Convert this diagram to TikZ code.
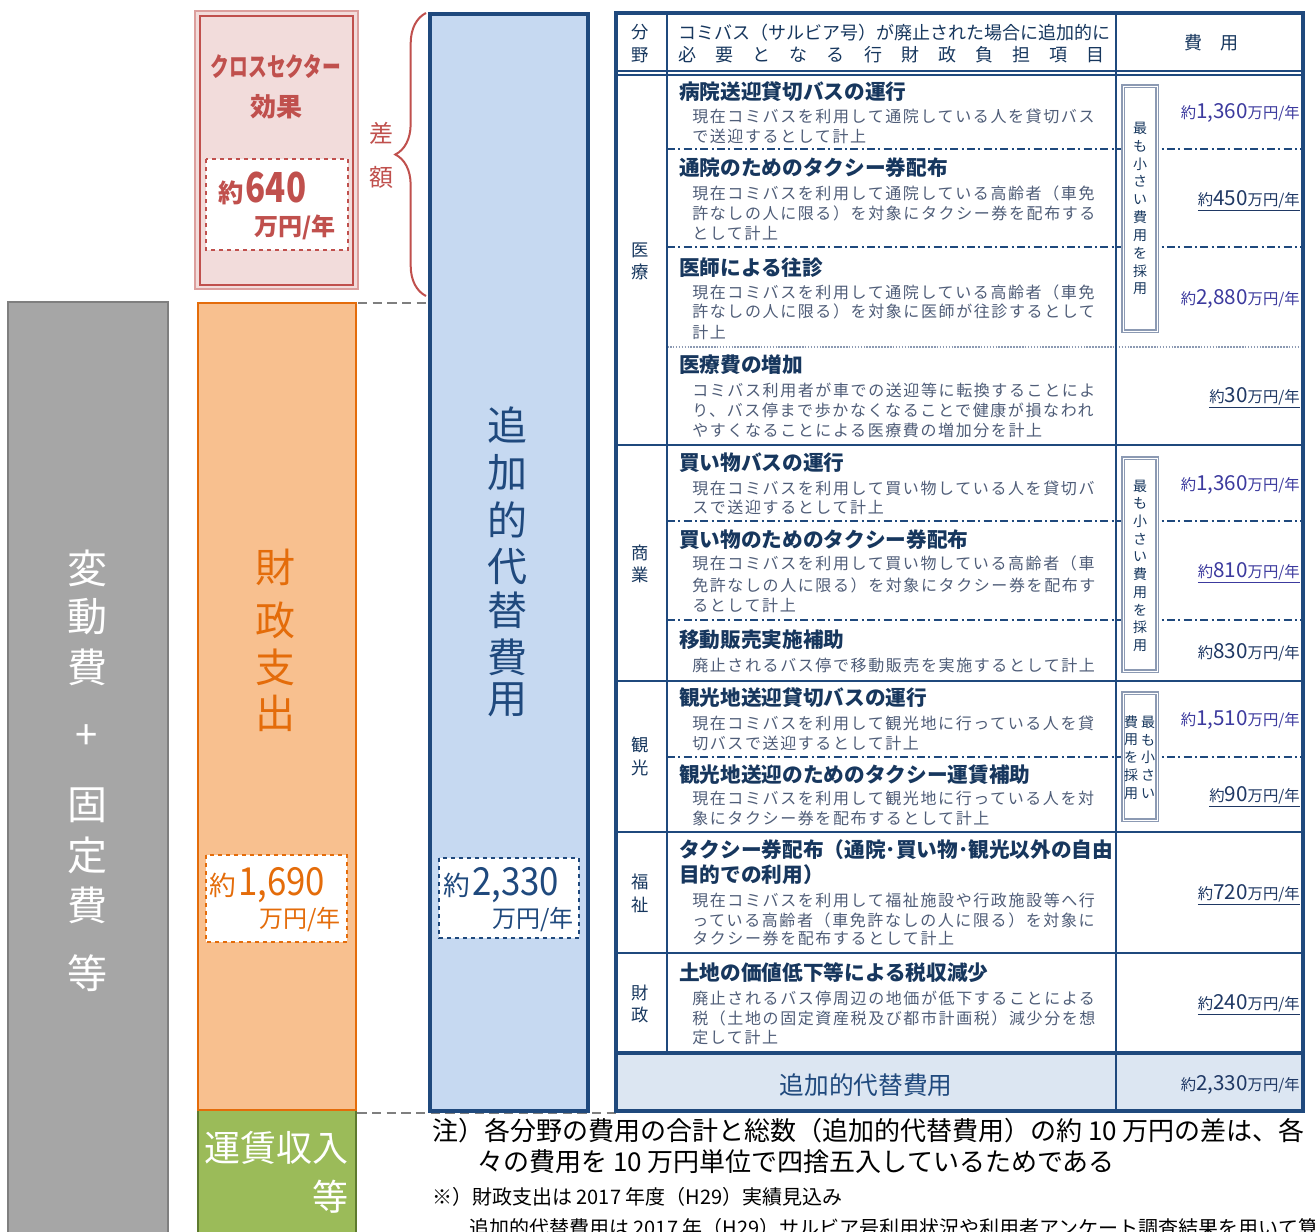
\documentclass[tikz,border=0pt]{standalone}
\usepackage{graphicx}
\usepackage{fontspec}
\setmainfont{Noto Sans CJK JP}
\newfontfamily\bodyfont[LetterSpace=10]{Noto Sans CJK JP}
\usetikzlibrary{calc,decorations.pathreplacing}

\definecolor{tabline}{HTML}{1F497D}
\definecolor{titlenavy}{HTML}{17375E}
\definecolor{bodygray}{HTML}{4F5D78}
\definecolor{costviolet}{HTML}{3C3A9E}
\definecolor{costnavy}{HTML}{1F3864}
\definecolor{crossred}{HTML}{C0504D}
\definecolor{crossfill}{HTML}{F2DCDB}
\definecolor{finorange}{HTML}{E46C0A}
\definecolor{finfill}{HTML}{F8C08F}
\definecolor{farefill}{HTML}{9BBB59}
\definecolor{fareline}{HTML}{5E7A2E}
\definecolor{varfill}{HTML}{A6A6A6}
\definecolor{varline}{HTML}{7F7F7F}
\definecolor{altfill}{HTML}{C6D9F1}
\definecolor{totalfill}{HTML}{DCE6F2}
\definecolor{boxline}{HTML}{8C9AB3}

\newcommand{\fsize}[1]{\fontsize{#1}{#1}\selectfont}
\newcommand{\costtxt}[1]{{\fsize{11.5pt}約}{\fsize{15.5pt}#1}{\fsize{11.5pt}万円/年}}

\tikzset{
  rowtitle/.style={anchor=west, inner sep=0pt, text=titlenavy, font=\fsize{15.5pt}\bfseries},
  rowbody/.style={anchor=west, inner sep=0pt, text=bodygray, font=\bodyfont\fsize{12pt}},
  field/.style={inner sep=0pt, text=titlenavy, font=\fsize{13pt}},
  cost/.style={anchor=east, inner sep=0pt},
  boxch/.style={inner sep=0pt, text=titlenavy, font=\fsize{10.5pt}},
  barch/.style={inner sep=0pt, font=\fsize{30pt}},
  dashdot/.style={tabline, line width=1.5pt, dash pattern=on 6pt off 2.5pt on 1.5pt off 2.5pt},
  solidsep/.style={tabline, line width=2.2pt},
  gapline/.style={varline, line width=1.5pt, dash pattern=on 7pt off 4pt},
  valbox/.style={fill=white, dashed, line width=1.2pt},
  minbox/.style={draw=boxline, fill=white, line width=1pt, double=white, double distance=0.5pt}
}

\begin{document}
\begin{tikzpicture}[x=0.75pt,y=-0.75pt]
\clip (0,0) rectangle (1315,1232);
\fill[white] (0,0) rectangle (1315,1232);

% bar corners
\coordinate (var-nw) at (8,302);
\coordinate (var-se) at (168,1250);
\coordinate (cross-nw) at (195,11);
\coordinate (cross-se) at (358,289);
\coordinate (fin-nw) at (198,303);
\coordinate (fin-se) at (356,1110);
\coordinate (fare-se) at (356,1250);
\coordinate (alt-nw) at (430,14);
\coordinate (alt-se) at (588,1111);
\coordinate (tab-nw) at (616,13);
\coordinate (tab-se) at (1303,1111);
\coordinate (gap-w) at (328,1113);

% guide lines
\draw[gapline] (gap-w) -- (gap-w -| tab-nw);
\draw[gapline] (fin-nw -| cross-se) -- (fin-nw -| alt-nw);

% bars
\draw[varline, fill=varfill, line width=2.2pt] (var-nw) rectangle (var-se);
\draw[crossred!55, fill=crossfill, line width=1.2pt] (cross-nw) rectangle (cross-se);
\draw[crossred, line width=1.8pt] ($(cross-nw)+(5,5)$) rectangle ($(cross-se)+(-5,-4)$);
\draw[fareline, fill=farefill, line width=1.8pt] (fin-se -| fin-nw) rectangle (fare-se);
\draw[finorange, fill=finfill, line width=2.2pt] (fin-nw) rectangle (fin-se);
\draw[tabline, fill=altfill, line width=2.4pt] (alt-nw) rectangle (alt-se);

% brace
\coordinate (brace-s) at (426,296);
\coordinate (brace-n) at (426,13);
\draw[crossred, line width=1.5pt, decorate, decoration={brace, amplitude=23pt}] (brace-s) -- (brace-n);
\node[inner sep=0pt, text=crossred, font=\fsize{18pt}] (diff1) at (381,133) {差};
\node[inner sep=0pt, text=crossred, font=\fsize{18pt}] (diff2) at (381,177) {額};

% bar labels
\foreach \c/\y [count=\k] in {変/568,動/617,費/667,+/737,固/805,定/855,費/905,等/973}
  \node[barch, text=white] (var\k) at (87,\y) {\c};
\foreach \c/\y [count=\k] in {財/567,政/620,支/667,出/713}
  \node[barch, text=finorange] (fin\k) at (275,\y) {\c};
\foreach \c/\y [count=\k] in {追/425,加/473,的/520,代/567,替/610,費/657,用/700}
  \node[barch, text=tabline] (alt\k) at (507,\y) {\c};
\node[inner sep=0pt, text=crossred, font=\fsize{19.5pt}\bfseries] (cross1) at (276,66) {\scalebox{0.72}[1]{クロスセクター}};
\node[inner sep=0pt, text=crossred, font=\fsize{19.5pt}\bfseries] (cross2) at (276,107) {効果};
\node[inner sep=0pt, text=white, font=\fsize{27pt}, anchor=west] (fare1) at (204,1148) {運賃収入};
\node[inner sep=0pt, text=white, font=\fsize{27pt}, anchor=east] (fare2) at (349,1197) {等};

% value boxes
\draw[crossred, valbox] (206,159) rectangle (348,250);
\node[anchor=base west, inner sep=0pt, text=crossred, font=\bfseries] (crossval) at (218,202) {{\fsize{19pt}約}\,{\fsize{31pt}\scalebox{0.8}[1]{640}}};
\node[anchor=base east, inner sep=0pt, text=crossred, font=\fsize{18pt}\bfseries] (crossunit) at (336,235) {万円/年};
\draw[finorange, valbox] (206,855) rectangle (347,942);
\node[anchor=base west, inner sep=0pt, text=finorange] (finval) at (209,895) {{\fsize{20pt}約}\,{\fsize{29pt}\scalebox{0.9}[1]{1,690}}};
\node[anchor=base east, inner sep=0pt, text=finorange, font=\fsize{18pt}] (finunit) at (341,927) {万円/年};
\draw[tabline, valbox] (439,858) rectangle (579,938);
\node[anchor=base west, inner sep=0pt, text=tabline] (altval) at (443,895) {{\fsize{20pt}約}\,{\fsize{29pt}\scalebox{0.9}[1]{2,330}}};
\node[anchor=base east, inner sep=0pt, text=tabline, font=\fsize{18pt}] (altunit) at (574,927) {万円/年};

% table
\fill[totalfill] (616,1053) rectangle (1303,1111);
\foreach \y in {149,247,521,620,757}
  \draw[dashdot] (667,\y) -- (1303,\y);
\draw[boxline, line width=1.2pt, densely dotted] (667,347) -- (1303,347);
\foreach \y in {445,681,832,953}
  \draw[solidsep] (616,\y) -- (1303,\y);
\draw[tabline, line width=1.4pt] (616,71) -- (1303,71);
\draw[tabline, line width=1.4pt] (616,75) -- (1303,75);
\draw[tabline, line width=2pt] (667,13) -- (667,1053);
\draw[tabline, line width=2pt] (1116,13) -- (1116,1111);
\draw[tabline, line width=3pt] (616,1053) -- (1303,1053);
\draw[tabline, line width=2.6pt] (tab-nw) rectangle (tab-se);

% smallest-cost boxes
\draw[minbox] (1123,86) rectangle (1157,331);
\draw[minbox] (1123,458) rectangle (1157,671);
\draw[minbox] (1123,693) rectangle (1157,820);
\foreach \c [count=\k] in {最,も,小,さ,い,費,用,を,採,用}
  \node[boxch] (minA\k) at (1140,{128+17.9*(\k-1)}) {\c};
\foreach \c [count=\k] in {最,も,小,さ,い,費,用,を,採,用}
  \node[boxch] (minB\k) at (1140,{486+17.7*(\k-1)}) {\c};
\foreach \c [count=\k] in {最,も,小,さ,い}
  \node[boxch] (minC\k) at (1148,{722+17.8*(\k-1)}) {\c};
\foreach \c [count=\k] in {費,用,を,採,用}
  \node[boxch] (minD\k) at (1131,{722+17.8*(\k-1)}) {\c};

% header
\node[field] (head1) at (640,32) {分};
\node[field] (head2) at (640,55) {野};
\node[anchor=west, inner sep=0pt, text=titlenavy, font=\fsize{13.5pt}] (head3) at (678,33) {コミバス（サルビア号）が廃止された場合に追加的に};
\node[anchor=west, inner sep=0pt, text=titlenavy, font=\fsize{13.5pt}] (head4) at (678,55) {\makebox[320pt][s]{必\hfill 要\hfill と\hfill な\hfill る\hfill 行\hfill 財\hfill 政\hfill 負\hfill 担\hfill 項\hfill 目}};
\node[inner sep=0pt, text=titlenavy, font=\fsize{13.5pt}] (head5) at (1211,43) {費　用};

% fields
\foreach \c/\y [count=\k] in {医/250,療/272,商/553,業/575,観/745,光/768,福/882,祉/905,財/993,政/1015}
  \node[field] (field\k) at (640,\y) {\c};

% items
\foreach \y/\t [count=\k] in {92/病院送迎貸切バスの運行, 168/通院のためのタクシー券配布, 268/医師による往診, 365/医療費の増加, 463/買い物バスの運行, 540/買い物のためのタクシー券配布, 640/移動販売実施補助, 698/観光地送迎貸切バスの運行, 775/観光地送迎のためのタクシー運賃補助, 850/タクシー券配布（通院･買い物･観光以外の自由, 875/目的での利用）, 973/土地の価値低下等による税収減少}
  \node[rowtitle] (item\k) at (679,\y) {\t};
\foreach \y/\t [count=\k] in {
  116/現在コミバスを利用して通院している人を貸切バス, 136/で送迎するとして計上,
  193/現在コミバスを利用して通院している高齢者（車免, 213/許なしの人に限る）を対象にタクシー券を配布する, 233/として計上,
  292/現在コミバスを利用して通院している高齢者（車免, 311/許なしの人に限る）を対象に医師が往診するとして, 332/計上,
  390/コミバス利用者が車での送迎等に転換することによ, 410/り、バス停まで歩かなくなることで健康が損なわれ, 430/やすくなることによる医療費の増加分を計上,
  488/現在コミバスを利用して買い物している人を貸切バ, 507/スで送迎するとして計上,
  563/現在コミバスを利用して買い物している高齢者（車, 585/免許なしの人に限る）を対象にタクシー券を配布す, 605/るとして計上,
  665/廃止されるバス停で移動販売を実施するとして計上,
  723/現在コミバスを利用して観光地に行っている人を貸, 743/切バスで送迎するとして計上,
  798/現在コミバスを利用して観光地に行っている人を対, 818/象にタクシー券を配布するとして計上,
  900/現在コミバスを利用して福祉施設や行政施設等へ行, 920/っている高齢者（車免許なしの人に限る）を対象に, 938/タクシー券を配布するとして計上,
  998/廃止されるバス停周辺の地価が低下することによる, 1018/税（土地の固定資産税及び都市計画税）減少分を想, 1037/定して計上}
  \node[rowbody] (desc\k) at (692,\y) {\t};

% costs
\node[cost, text=costviolet] (cost1) at (1300,113) {\costtxt{1,360}};
\node[cost, text=costnavy] (cost2) at (1300,201) {\underline{\costtxt{450}}};
\node[cost, text=costviolet] (cost3) at (1300,299) {\costtxt{2,880}};
\node[cost, text=costnavy] (cost4) at (1300,398) {\underline{\costtxt{30}}};
\node[cost, text=costviolet] (cost5) at (1300,485) {\costtxt{1,360}};
\node[cost, text=costviolet] (cost6) at (1300,573) {\underline{\costtxt{810}}};
\node[cost, text=costnavy] (cost7) at (1300,652) {\costtxt{830}};
\node[cost, text=costviolet] (cost8) at (1300,720) {\costtxt{1,510}};
\node[cost, text=costnavy] (cost9) at (1300,797) {\underline{\costtxt{90}}};
\node[cost, text=costnavy] (cost10) at (1300,895) {\underline{\costtxt{720}}};
\node[cost, text=costnavy] (cost11) at (1300,1005) {\underline{\costtxt{240}}};
\node[inner sep=0pt, text=tabline, font=\fsize{18.5pt}] (total) at (866,1085) {追加的代替費用};
\node[cost, text=costnavy] (costsum) at (1300,1085) {\costtxt{2,330}};

% notes
\node[anchor=west, inner sep=0pt, font=\fsize{19.5pt}] (note1) at (432,1131) {注）各分野の費用の合計と総数（追加的代替費用）の約 10 万円の差は、各};
\node[anchor=west, inner sep=0pt, font=\fsize{19.5pt}] (note2) at (477,1162) {々の費用を 10 万円単位で四捨五入しているためである};
\node[anchor=west, inner sep=0pt, font=\fsize{15pt}] (note3) at (432,1197) {※）財政支出は 2017 年度（H29）実績見込み};
\node[anchor=west, inner sep=0pt, font=\fsize{15pt}] (note4) at (469,1228) {追加的代替費用は 2017 年（H29）サルビア号利用状況や利用者アンケート調査結果を用いて算出};
\end{tikzpicture}
\end{document}
